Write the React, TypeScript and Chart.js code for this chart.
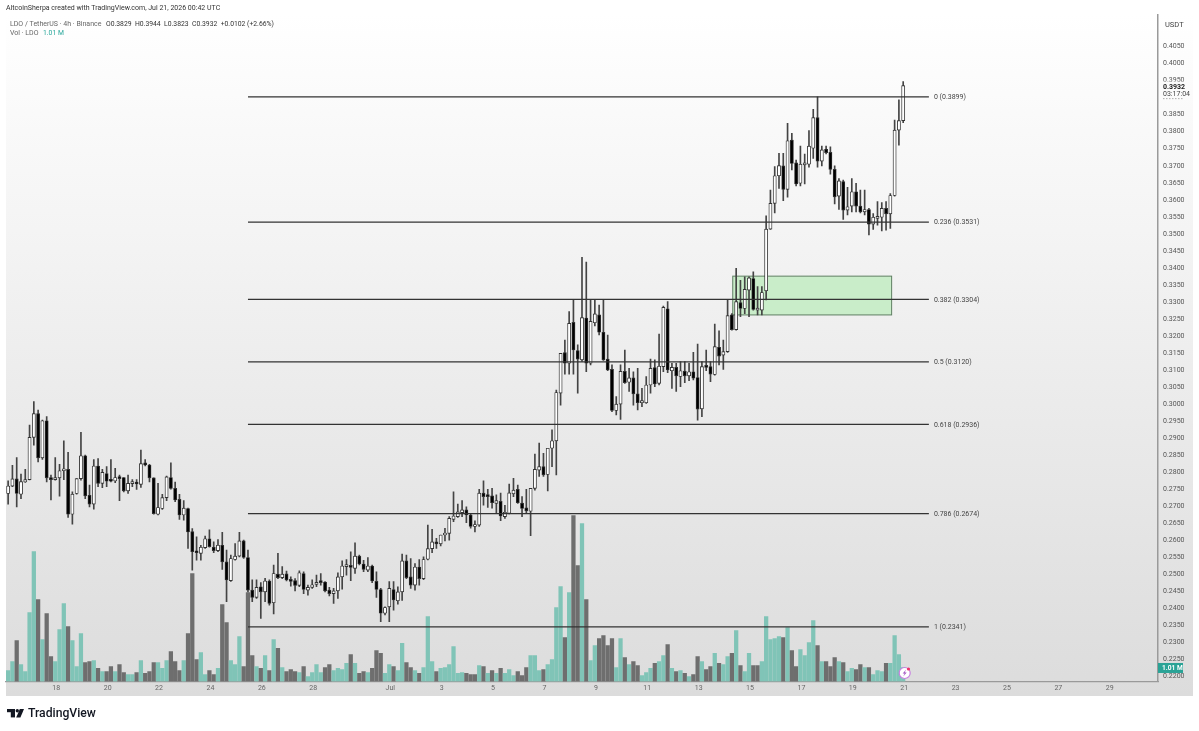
import React, { useEffect, useRef } from "react";
import { Chart, registerables } from "chart.js";

Chart.register(...registerables);

const opens = [
  0.2733,0.2755,0.2776,0.2731,0.2767,0.2774,0.2898,0.2968,0.2838,0.2947,
  0.2779,0.2774,0.2779,0.2800,0.2804,0.2672,0.2733,0.2777,0.2844,0.2728,
  0.2702,0.2814,0.2763,0.2792,0.2772,0.2770,0.2780,0.2780,0.2741,0.2762,
  0.2767,0.2760,0.2823,0.2817,0.2779,0.2672,0.2689,0.2721,0.2780,0.2748,
  0.2716,0.2670,0.2689,0.2621,0.2563,0.2557,0.2574,0.2600,0.2575,0.2565,
  0.2581,0.2532,0.2477,0.2539,0.2549,0.2594,0.2545,0.2449,0.2428,0.2459,
  0.2444,0.2476,0.2412,0.2496,0.2486,0.2497,0.2479,0.2477,0.2463,0.2498,
  0.2449,0.2457,0.2466,0.2473,0.2473,0.2449,0.2439,0.2447,0.2488,0.2518,
  0.2521,0.2513,0.2549,0.2526,0.2508,0.2520,0.2475,0.2451,0.2381,0.2400,
  0.2451,0.2418,0.2444,0.2535,0.2488,0.2464,0.2517,0.2483,0.2540,0.2571,
  0.2591,0.2585,0.2611,0.2616,0.2657,0.2665,0.2677,0.2685,0.2670,0.2636,
  0.2640,0.2734,0.2727,0.2726,0.2704,0.2710,0.2665,0.2675,0.2732,0.2745,
  0.2705,0.2691,0.2681,0.2748,0.2802,0.2812,0.2789,0.2866,0.2888,0.3028,
  0.3147,0.3116,0.3236,0.3153,0.3126,0.3249,0.3116,0.3235,0.3258,0.3207,
  0.3128,0.3098,0.2977,0.2996,0.3092,0.3060,0.3073,0.3026,0.3000,0.3000,
  0.3052,0.3103,0.3057,0.3106,0.3276,0.3094,0.3104,0.3077,0.3093,0.3079,
  0.3091,0.3074,0.2982,0.3106,0.3106,0.3083,0.3163,0.3140,0.3150,0.3258,
  0.3215,0.3294,0.3277,0.3331,0.3365,0.3272,0.3272,0.3329,0.3510,0.3586,
  0.3667,0.3696,0.3627,0.3772,0.3705,0.3645,0.3699,0.3701,0.3748,0.3838,
  0.3710,0.3745,0.3736,0.3686,0.3607,0.3650,0.3566,0.3578,0.3620,0.3578,
  0.3561,0.3568,0.3525,0.3542,0.3545,0.3571,0.3555,0.3609,0.3801,0.3829,
];
const closes = [
  0.2755,0.2776,0.2733,0.2768,0.2774,0.2898,0.2968,0.2838,0.2947,0.2779,
  0.2774,0.2777,0.2800,0.2804,0.2672,0.2731,0.2777,0.2844,0.2726,0.2702,
  0.2814,0.2763,0.2795,0.2769,0.2769,0.2780,0.2777,0.2741,0.2763,0.2765,
  0.2761,0.2821,0.2817,0.2779,0.2674,0.2692,0.2721,0.2782,0.2748,0.2714,
  0.2670,0.2690,0.2620,0.2562,0.2559,0.2575,0.2600,0.2577,0.2565,0.2581,
  0.2532,0.2479,0.2542,0.2549,0.2594,0.2545,0.2449,0.2428,0.2457,0.2444,
  0.2476,0.2410,0.2498,0.2486,0.2496,0.2479,0.2475,0.2463,0.2500,0.2451,
  0.2457,0.2465,0.2471,0.2471,0.2447,0.2439,0.2447,0.2488,0.2520,0.2520,
  0.2516,0.2549,0.2526,0.2510,0.2520,0.2476,0.2451,0.2381,0.2398,0.2454,
  0.2420,0.2444,0.2535,0.2486,0.2464,0.2517,0.2483,0.2539,0.2571,0.2591,
  0.2585,0.2611,0.2616,0.2660,0.2667,0.2679,0.2685,0.2670,0.2636,0.2641,
  0.2734,0.2724,0.2724,0.2706,0.2712,0.2667,0.2678,0.2735,0.2743,0.2706,
  0.2689,0.2682,0.2748,0.2804,0.2812,0.2788,0.2866,0.2888,0.3030,0.3145,
  0.3116,0.3233,0.3155,0.3128,0.3250,0.3116,0.3239,0.3261,0.3207,0.3126,
  0.3096,0.2977,0.2996,0.3092,0.3059,0.3073,0.3026,0.3000,0.3005,0.3052,
  0.3101,0.3055,0.3107,0.3280,0.3096,0.3104,0.3079,0.3094,0.3079,0.3091,
  0.3072,0.2981,0.3106,0.3104,0.3084,0.3165,0.3137,0.3150,0.3256,0.3215,
  0.3297,0.3277,0.3333,0.3367,0.3274,0.3276,0.3324,0.3510,0.3586,0.3667,
  0.3697,0.3627,0.3770,0.3703,0.3643,0.3701,0.3703,0.3754,0.3838,0.3710,
  0.3743,0.3735,0.3686,0.3605,0.3652,0.3566,0.3576,0.3620,0.3578,0.3561,
  0.3568,0.3525,0.3545,0.3547,0.3571,0.3555,0.3609,0.3801,0.3829,0.3932,
];
const highs = [
  0.2770,0.2816,0.2839,0.2790,0.2804,0.2934,0.3003,0.2978,0.2949,0.2959,
  0.2787,0.2839,0.2819,0.2888,0.2854,0.2738,0.2777,0.2913,0.2846,0.2758,
  0.2833,0.2836,0.2804,0.2812,0.2833,0.2807,0.2787,0.2780,0.2787,0.2774,
  0.2774,0.2861,0.2833,0.2819,0.2779,0.2763,0.2731,0.2784,0.2823,0.2767,
  0.2731,0.2712,0.2690,0.2630,0.2606,0.2581,0.2608,0.2626,0.2591,0.2598,
  0.2619,0.2567,0.2552,0.2586,0.2619,0.2596,0.2567,0.2479,0.2479,0.2471,
  0.2484,0.2479,0.2523,0.2557,0.2518,0.2505,0.2488,0.2483,0.2506,0.2503,
  0.2464,0.2479,0.2493,0.2498,0.2474,0.2457,0.2454,0.2500,0.2535,0.2539,
  0.2562,0.2588,0.2552,0.2537,0.2545,0.2523,0.2503,0.2454,0.2400,0.2474,
  0.2474,0.2459,0.2555,0.2552,0.2542,0.2527,0.2539,0.2547,0.2640,0.2628,
  0.2601,0.2611,0.2631,0.2665,0.2738,0.2702,0.2712,0.2694,0.2675,0.2653,
  0.2745,0.2770,0.2745,0.2748,0.2729,0.2734,0.2698,0.2761,0.2778,0.2758,
  0.2724,0.2745,0.2748,0.2849,0.2881,0.2851,0.2866,0.2920,0.3037,0.3145,
  0.3184,0.3268,0.3302,0.3170,0.3427,0.3413,0.3302,0.3302,0.3287,0.3302,
  0.3199,0.3111,0.3018,0.3111,0.3155,0.3101,0.3091,0.3101,0.3042,0.3077,
  0.3128,0.3126,0.3202,0.3284,0.3297,0.3116,0.3116,0.3121,0.3121,0.3116,
  0.3148,0.3172,0.3121,0.3155,0.3121,0.3231,0.3211,0.3184,0.3302,0.3262,
  0.3395,0.3360,0.3370,0.3370,0.3385,0.3341,0.3341,0.3549,0.3625,0.3694,
  0.3733,0.3733,0.3821,0.3792,0.3713,0.3754,0.3731,0.3800,0.3862,0.3899,
  0.3754,0.3754,0.3752,0.3696,0.3659,0.3654,0.3633,0.3659,0.3645,0.3625,
  0.3625,0.3571,0.3556,0.3591,0.3588,0.3591,0.3615,0.3831,0.3890,0.3944,
];
const lows = [
  0.2702,0.2753,0.2694,0.2718,0.2766,0.2773,0.2875,0.2826,0.2833,0.2767,
  0.2714,0.2772,0.2725,0.2774,0.2663,0.2643,0.2731,0.2772,0.2718,0.2694,
  0.2687,0.2753,0.2750,0.2753,0.2767,0.2765,0.2712,0.2738,0.2733,0.2753,
  0.2745,0.2751,0.2814,0.2767,0.2672,0.2670,0.2686,0.2712,0.2746,0.2709,
  0.2657,0.2655,0.2572,0.2508,0.2537,0.2537,0.2572,0.2575,0.2559,0.2562,
  0.2510,0.2415,0.2475,0.2537,0.2547,0.2542,0.2444,0.2415,0.2425,0.2366,
  0.2415,0.2405,0.2379,0.2483,0.2483,0.2476,0.2461,0.2447,0.2459,0.2439,
  0.2434,0.2454,0.2459,0.2464,0.2444,0.2432,0.2410,0.2425,0.2452,0.2493,
  0.2477,0.2498,0.2523,0.2503,0.2503,0.2471,0.2428,0.2356,0.2376,0.2356,
  0.2390,0.2408,0.2419,0.2483,0.2454,0.2449,0.2464,0.2480,0.2538,0.2559,
  0.2572,0.2579,0.2594,0.2596,0.2650,0.2663,0.2665,0.2647,0.2631,0.2620,
  0.2636,0.2699,0.2692,0.2690,0.2675,0.2653,0.2660,0.2673,0.2724,0.2704,
  0.2665,0.2675,0.2609,0.2743,0.2783,0.2783,0.2741,0.2812,0.2788,0.2993,
  0.3084,0.3084,0.3084,0.3028,0.3121,0.3091,0.3111,0.3226,0.3199,0.3124,
  0.3094,0.2974,0.2964,0.2951,0.3057,0.3033,0.2993,0.2979,0.2988,0.2998,
  0.3028,0.3047,0.3052,0.3091,0.3088,0.3042,0.3033,0.3047,0.3059,0.3065,
  0.3067,0.2949,0.2959,0.3094,0.3062,0.3081,0.3111,0.3098,0.3148,0.3213,
  0.3213,0.3253,0.3262,0.3253,0.3272,0.3258,0.3258,0.3302,0.3509,0.3558,
  0.3630,0.3594,0.3604,0.3684,0.3637,0.3637,0.3643,0.3692,0.3718,0.3692,
  0.3696,0.3731,0.3672,0.3584,0.3568,0.3539,0.3552,0.3561,0.3561,0.3558,
  0.3552,0.3493,0.3509,0.3522,0.3505,0.3507,0.3512,0.3607,0.3757,0.3823,
];
const volumes = [
  0.79,1.44,2.95,1.22,0.72,4.97,9.36,5.90,3.02,4.90,
  1.80,1.44,3.74,5.62,3.96,2.95,1.08,3.46,1.37,1.44,
  1.51,0.94,0.72,0.72,1.08,0.72,1.22,0.65,0.50,0.50,
  0.65,1.51,0.58,0.72,1.37,1.37,0.94,1.51,2.16,1.44,
  0.79,1.51,3.46,7.78,1.58,2.09,0.50,0.79,0.50,0.94,
  5.54,4.25,1.51,1.22,3.24,1.08,6.41,1.87,1.08,0.94,
  1.87,0.79,3.02,2.38,1.01,0.72,0.86,0.72,0.65,1.08,
  0.36,0.65,1.22,0.65,1.01,1.22,0.79,0.94,0.86,1.30,
  1.94,1.30,0.58,0.72,0.65,0.94,2.23,2.02,0.58,1.22,
  1.08,0.79,2.74,1.37,1.01,0.79,0.58,1.01,4.68,1.44,
  0.72,0.94,1.01,1.22,2.52,0.58,0.65,0.58,0.50,0.50,
  1.15,1.08,0.58,0.79,0.58,0.94,0.58,0.86,0.43,0.72,
  0.43,1.01,1.87,1.87,0.79,0.86,1.22,1.58,5.33,6.84,
  3.17,6.41,11.95,8.35,11.38,5.90,1.51,2.59,3.10,3.31,
  2.59,3.10,1.01,3.10,1.73,1.22,1.44,1.15,0.43,0.65,
  0.94,1.30,1.44,1.87,2.66,0.94,0.72,0.79,0.58,0.36,
  0.50,1.80,1.44,0.86,1.08,2.02,1.30,1.22,1.80,2.02,
  3.67,1.15,0.72,2.02,1.15,1.15,1.44,4.68,3.02,3.10,
  3.24,3.17,3.89,2.23,1.08,2.30,1.87,2.81,4.39,2.59,
  1.44,1.44,1.08,1.73,1.44,1.37,0.72,0.94,0.86,1.22,
  1.01,1.01,0.50,0.79,0.72,1.30,1.30,3.31,1.94,1.01,
];
const volumeSideRows = [
  "uuduuuudud","duuuduuudd","ududdudduu","duddduuudd","duddduuddu",
  "dduuudddud","udududddud","uuuudduuuu","dudduddduu","duudduduuu",
  "duuuuuuddd","udududuuud","dduuuduuuu","dudduduudd","dduududduu",
  "uduudududu","ddudduduud","uduudduuuu","ududduuuud","uddduduudd",
  "uduuuduuuu",
];
const volumeSides = volumeSideRows.join("").split("");

const categories: string[] = [];
for (let i = 0; i < 269; i++) categories.push(String(i));

const dateTickIndexes = [11,23,35,47,59,71,89,101,113,125,137,149,161,173,185,197,209,221,233,245,257];
const dateTickLabels = ["18","20","22","24","26","28","Jul","3","5","7","9","11","13","15","17","19","21","23","25","27","29"];

const fibRatios = ["0","0.236","0.382","0.5","0.618","0.786","1"];
const fibPrices = [0.3899,0.3531,0.3304,0.3120,0.2936,0.2674,0.2341];
const fibStartIndex = "56";
const fibEndIndex = "215";

const zoneIndexRange = [169.2, 206.3];
const zonePriceRange = [0.3258, 0.3372];

const FONT = "Roboto, Arial, sans-serif";

const overlayPlugin = {
  id: "overlay",
  beforeDraw(chart: any) {
    const c = chart.ctx;
    c.save();
    c.fillStyle = "#ffffff";
    c.fillRect(0, 0, 1199, 731);
    const g = c.createLinearGradient(0, 15, 0, 696);
    g.addColorStop(0, "#ffffff");
    g.addColorStop(1, "#dcdcdc");
    c.fillStyle = g;
    c.fillRect(6, 15, 1187, 681);
    c.restore();
  },
  beforeDatasetsDraw(chart: any) {
    const c = chart.ctx;
    const x = chart.scales.x;
    const y = chart.scales.y;
    const x0 = x.getPixelForValue(zoneIndexRange[0]);
    const x1 = x.getPixelForValue(zoneIndexRange[1]);
    const y0 = y.getPixelForValue(zonePriceRange[1]);
    const y1 = y.getPixelForValue(zonePriceRange[0]);
    c.save();
    c.fillStyle = "#c9edc9";
    c.strokeStyle = "#5f7f63";
    c.lineWidth = 1;
    c.fillRect(x0, y0, x1 - x0, y1 - y0);
    c.strokeRect(x0, y0, x1 - x0, y1 - y0);
    c.restore();
  },
  afterDraw(chart: any) {
    const c = chart.ctx;
    const x = chart.scales.x;
    const y = chart.scales.y;
    c.save();
    c.textBaseline = "middle";
    c.textAlign = "left";

    c.font = `7px ${FONT}`;
    c.fillStyle = "#444";
    const labelX = x.getPixelForValue(Number(fibEndIndex)) + 5;
    fibPrices.forEach((p, i) => {
      c.fillText(`${fibRatios[i]} (${p.toFixed(4)})`, labelX, y.getPixelForValue(p) + 0.5);
    });

    c.font = `7px ${FONT}`;
    c.fillStyle = "#333";
    c.fillText("AltcoinSherpa created with TradingView.com, Jul 21, 2026 00:42 UTC", 6, 8.5);

    c.font = `7px ${FONT}`;
    c.fillStyle = "#666";
    c.fillText("LDO / TetherUS · 4h · Binance", 10, 24);
    c.fillText("Vol · LDO", 10, 33);
    c.fillStyle = "#333";
    c.font = `6.8px ${FONT}`;
    c.fillText("O0.3829  H0.3944  L0.3823  C0.3932  +0.0102 (+2.66%)", 106, 24);
    c.fillStyle = "#26a69a";
    c.fillText("1.01 M", 43, 33);

    c.fillStyle = "#444";
    c.font = `7.5px ${FONT}`;
    c.fillText("USDT", 1165, 25.5);

    // last price label
    const last = closes[closes.length - 1];
    const ly = y.getPixelForValue(last);
    const g = c.createLinearGradient(0, 15, 0, 696);
    g.addColorStop(0, "#ffffff");
    g.addColorStop(1, "#dcdcdc");
    c.fillStyle = g;
    c.fillRect(1160, ly - 4, 30, 17.5);
    c.fillStyle = "#222";
    c.font = `bold 7px ${FONT}`;
    c.fillText(last.toFixed(4), 1163, ly + 1.2);
    c.font = `7px ${FONT}`;
    c.fillStyle = "#444";
    c.fillText("03:17:04", 1163, ly + 8.9);
    c.strokeStyle = "#777";
    c.lineWidth = 0.6;
    c.setLineDash([1.5, 1.5]);
    c.beginPath();
    c.moveTo(1163, ly + 13);
    c.lineTo(1184, ly + 13);
    c.stroke();
    c.setLineDash([]);

    // volume label
    const v = chart.scales.vol;
    const lastVol = volumes[volumes.length - 1];
    const vy = v.getPixelForValue(lastVol);
    c.fillStyle = "#2aa396";
    c.fillRect(1158, vy - 4.5, 25, 10);
    c.fillStyle = "#ffffff";
    c.font = `bold 6.6px ${FONT}";`;
    c.font = `bold 6.6px ${FONT}`;
    c.fillText(`${lastVol.toFixed(2)} M`, 1162, vy + 0.7);

    // flash badge
    const fx = x.getPixelForValue(209) + 1.5;
    const fy = 673;
    c.beginPath();
    c.arc(fx, fy, 5.5, 0, Math.PI * 2);
    c.fillStyle = "#ffffff";
    c.fill();
    c.strokeStyle = "#c77fe0";
    c.lineWidth = 1.2;
    c.stroke();
    c.beginPath();
    c.moveTo(fx + 1.5, fy - 3.5);
    c.lineTo(fx - 2, fy + 0.5);
    c.lineTo(fx, fy + 0.5);
    c.lineTo(fx - 1.5, fy + 3.5);
    c.lineTo(fx + 2, fy - 0.5);
    c.lineTo(fx, fy - 0.5);
    c.closePath();
    c.fillStyle = "#a04fc0";
    c.fill();
    c.beginPath();
    c.arc(fx + 3.8, fy - 4, 1.6, 0, Math.PI * 2);
    c.fillStyle = "#f0306a";
    c.fill();

    // logo
    c.fillStyle = "#131722";
    c.fillRect(7, 709, 8, 3.2);
    c.fillRect(10.8, 709, 4.2, 8.4);
    c.beginPath();
    c.arc(17.3, 710.8, 1.7, 0, Math.PI * 2);
    c.fill();
    c.beginPath();
    c.moveTo(19.8, 709);
    c.lineTo(24, 709);
    c.lineTo(20.4, 717.4);
    c.lineTo(16.2, 717.4);
    c.closePath();
    c.fill();
    c.font = `500 12.2px ${FONT}`;
    c.fillText("TradingView", 28, 714);
    c.restore();
  },
};

export default function App() {
  const ref = useRef<HTMLCanvasElement | null>(null);
  useEffect(() => {
    if (!ref.current) return;
    const fibDatasets = fibPrices.map((p) => ({
      type: "line" as const,
      data: [
        { x: fibStartIndex, y: p },
        { x: fibEndIndex, y: p },
      ],
      yAxisID: "y",
      borderColor: "#333333",
      borderWidth: 1.2,
      pointRadius: 0,
      order: 1,
    }));
    const chart = new Chart(ref.current, {
      type: "bar",
      plugins: [overlayPlugin],
      data: {
        labels: categories,
        datasets: [
          {
            data: volumes,
            yAxisID: "vol",
            grouped: false,
            barThickness: 3.6,
            backgroundColor: (ctx: any) => (volumeSides[ctx.dataIndex] === "d" ? "#6e6e6e" : "#80c4b7"),
            borderWidth: 0,
            order: 5,
          },
          {
            data: highs.map((h, i) => [lows[i], h]),
            yAxisID: "y",
            grouped: false,
            barThickness: 1,
            backgroundColor: "#444444",
            borderWidth: 0,
            order: 4,
          },
          {
            data: opens.map((o, i) => [o, closes[i]]),
            yAxisID: "y",
            grouped: false,
            barThickness: 3.2,
            minBarLength: 2,
            backgroundColor: (ctx: any) =>
              closes[ctx.dataIndex] >= opens[ctx.dataIndex] ? "#ffffff" : "#000000",
            borderColor: "#333333",
            borderWidth: 0.9,
            borderSkipped: false,
            order: 3,
          },
          ...fibDatasets,
        ] as any,
      },
      options: {
        animation: false,
        responsive: false,
        devicePixelRatio: 1,
        layout: { padding: { left: 6, top: 15, right: 0, bottom: 0 } },
        plugins: { legend: { display: false }, tooltip: { enabled: false } },
        scales: {
          x: {
            type: "category",
            offset: true,
            grid: { display: false, drawTicks: false },
            border: { display: true, color: "#9a9a9a", width: 1.2 },
            afterFit: (s: any) => {
              s.height = 49.5;
            },
            ticks: {
              autoSkip: false,
              maxRotation: 0,
              padding: 3,
              labelOffset: 1,
              color: "#666",
              font: { size: 7, family: FONT },
              callback: (_v: any, i: number) => {
                const k = dateTickIndexes.indexOf(i);
                return k >= 0 ? dateTickLabels[k] : "";
              },
            },
          },
          y: {
            position: "right",
            min: 0.21805,
            max: 0.41396,
            grid: { display: false, drawTicks: false },
            border: { display: true, color: "#9a9a9a", width: 1.5 },
            afterFit: (s: any) => {
              s.width = 41;
            },
            ticks: {
              stepSize: 0.005,
              includeBounds: false,
              autoSkip: false,
              padding: 5,
              labelOffset: 1.2,
              color: "#555",
              font: { size: 7, family: FONT },
              callback: (v: any) => {
                const n = Number(v);
                const t = n.toFixed(4);
                return t === "0.3900" || n > 0.406 ? "" : t;
              },
            },
          },
          vol: {
            display: false,
            min: 0,
            max: 48,
          },
        },
      } as any,
    });
    return () => chart.destroy();
  }, []);
  return (
    <div style={{ position: "absolute", left: 0, top: 0, width: 1199, height: 731, background: "#fff" }}>
      <canvas ref={ref} width={1199} height={731} style={{ display: "block" }} />
    </div>
  );
}
